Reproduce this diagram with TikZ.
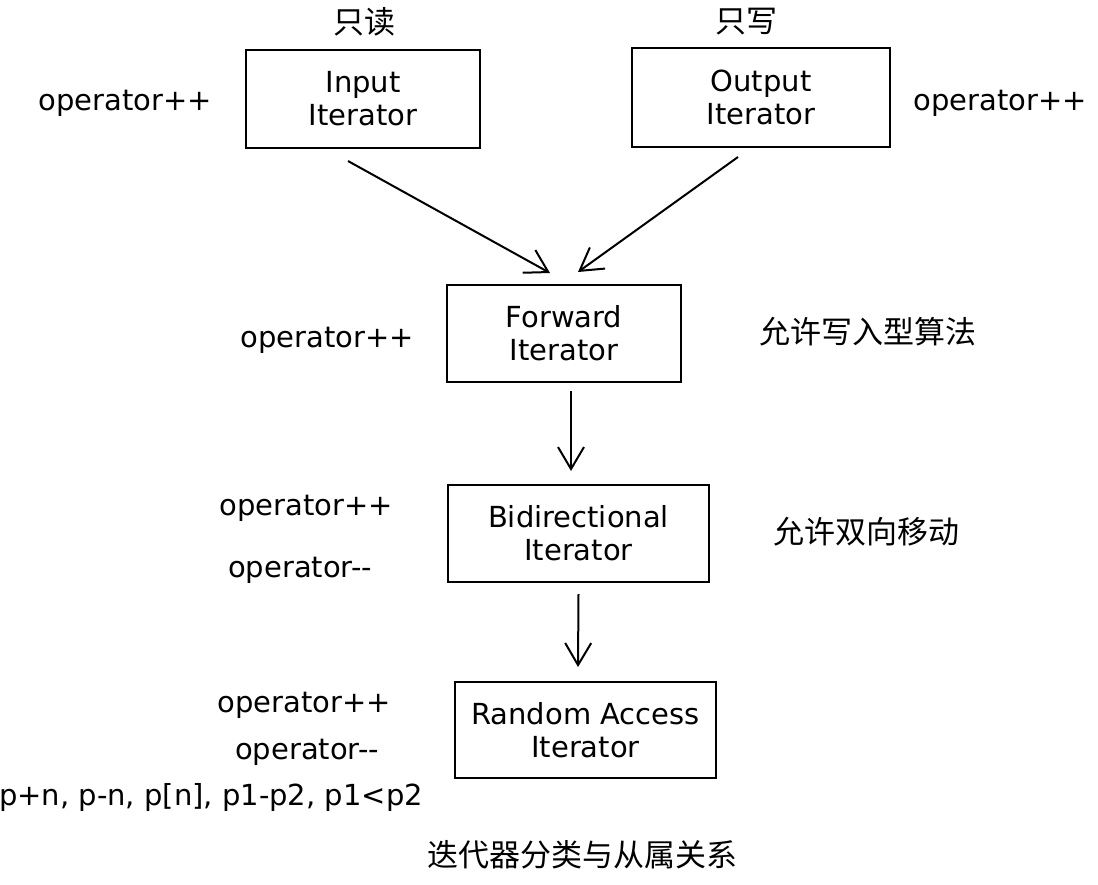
\documentclass[tikz,border=0pt]{standalone}
\usepackage{fontspec}
\setmainfont{DejaVu Sans}
\newfontfamily\cjk{Noto Sans CJK SC}
\usetikzlibrary{arrows.meta,calc}
\begin{document}
\begin{tikzpicture}[x=1pt,y=-1pt,
  box/.style={draw,line width=2pt,align=center,font=\fontsize{29}{33}\selectfont,inner sep=0pt},
  lbl/.style={font=\fontsize{29}{33}\selectfont,inner sep=0pt,align=center},
  zh/.style={font=\cjk\fontsize{31}{36}\selectfont,inner sep=0pt},
  arr/.style={line width=2pt,-{Straight Barb[length=22pt,width=26pt,line width=2pt]}}]
\useasboundingbox (0,0) rectangle (1098,884);
\node[box,minimum width=234pt,minimum height=98pt] (inp) at (363,99) {Input\\Iterator};
\node[box,minimum width=258pt,minimum height=99pt] (out) at (761,97.5) {Output\\Iterator};
\node[box,minimum width=234pt,minimum height=97pt] (fwd) at (564,333.5) {Forward\\Iterator};
\node[box,minimum width=261pt,minimum height=97pt] (bid) at (578.5,533.5) {Bidirectional\\Iterator};
\node[box,minimum width=261pt,minimum height=96pt] (rnd) at (585.5,730) {Random Access\\Iterator};
\draw[arr] ($(inp.south)+(-15,12)$) -- ($(fwd.north)+(-14,-11)$);
\draw[arr] ($(out.south)+(-23,9)$) -- ($(fwd.north)+(14,-12)$);
\draw[arr] ($(fwd.south)+(7,8)$) -- ($(bid.north)+(-7.5,-13)$);
\draw[arr] ($(bid.south)+(0,11)$) -- ($(rnd.north)+(-7.5,-14)$);
\node[zh] (r1) at (364,22) {只读};
\node[zh] (w1) at (746,22) {只写};
\node[lbl] (l1) at (125,103) {operator++};
\node[lbl] (l2) at (1000,103) {operator++};
\node[lbl] (l3) at (327,340) {operator++};
\node[zh] (z1) at (868,332) {允许写入型算法};
\node[lbl] (l4) at (306,508) {operator++};
\node[lbl] (l5) at (300,570) {operator-{}-};
\node[zh] (z2) at (866,532) {允许双向移动};
\node[lbl] (l6) at (304,705) {operator++};
\node[lbl] (l7) at (307,752) {operator-{}-};
\node[lbl] (l8) at (211,797) {p+n, p-n, p[n], p1-p2, p1<p2};
\node[zh] (t) at (582,855) {迭代器分类与从属关系};
\end{tikzpicture}
\end{document}
